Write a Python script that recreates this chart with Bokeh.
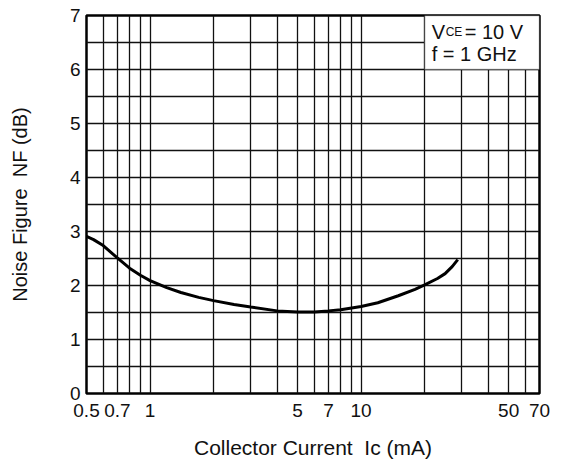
from bokeh.plotting import figure
from bokeh.models import FixedTicker, BoxAnnotation, Label
from bokeh.embed import file_html
from bokeh.resources import INLINE

# ---- data ----
ic_ma = [0.5, 0.54, 0.6, 0.7, 0.8, 0.9, 1.0, 1.2, 1.4, 1.7, 2.0, 2.5, 3.0, 4.0, 5.0,
         6.0, 7.0, 8.0, 10.0, 12.0, 15.0, 18.0, 20.0, 23.0, 25.0, 27.0, 28.7]
nf_db = [2.91, 2.85, 2.74, 2.51, 2.32, 2.19, 2.09, 1.96, 1.87, 1.78, 1.72, 1.65, 1.60, 1.53, 1.51,
         1.51, 1.53, 1.55, 1.61, 1.68, 1.81, 1.93, 2.01, 2.13, 2.22, 2.35, 2.48]

x_label_ticks = [0.5, 0.7, 1, 5, 7, 10, 50, 70]
x_label_texts = ["0.5", "0.7", "1", "5", "7", "10", "50", "70"]
x_grid_ticks = [0.5, 0.6, 0.7, 0.8, 0.9, 1, 2, 3, 4, 5, 6, 7, 8, 9, 10,
                20, 30, 40, 50, 60, 70]
y_label_ticks = [0, 1, 2, 3, 4, 5, 6, 7]
y_grid_ticks = [0, 0.5, 1, 1.5, 2, 2.5, 3, 3.5, 4, 4.5, 5, 5.5, 6, 6.5, 7]

# condition box (data extents)
box_left, box_right, box_bottom, box_top = 20, 70, 6, 7

FONT = "Liberation Sans"
TEXT_COLOR = "#111111"

p = figure(width=562, height=470, x_axis_type="log",
           x_range=(0.5, 70), y_range=(0, 7),
           output_backend="svg", toolbar_location=None,
           min_border_left=86, min_border_right=23,
           min_border_top=15, min_border_bottom=77)

p.background_fill_color = "white"
p.border_fill_color = "white"
p.outline_line_color = "black"
p.outline_line_width = 2.5

# grids
p.xgrid.ticker = FixedTicker(ticks=x_grid_ticks)
p.ygrid.ticker = FixedTicker(ticks=y_grid_ticks)
for g in (p.xgrid, p.ygrid):
    g.grid_line_color = "#111111"
    g.grid_line_width = 1.3
    g.grid_line_alpha = 1.0

# axes
xa = p.xaxis[0]
xa.ticker = FixedTicker(ticks=x_label_ticks)
xa.major_label_overrides = {t: s for t, s in zip(x_label_ticks, x_label_texts)}
ya = p.yaxis[0]
ya.ticker = FixedTicker(ticks=y_label_ticks)
for ax in (xa, ya):
    ax.axis_line_color = None
    ax.major_tick_line_color = None
    ax.minor_tick_line_color = None
    ax.major_tick_in = 0
    ax.major_tick_out = 0
    ax.minor_tick_in = 0
    ax.minor_tick_out = 0
    ax.major_label_text_font = FONT
    ax.major_label_text_font_size = "19px"
    ax.major_label_text_color = TEXT_COLOR
    ax.axis_label_text_font = FONT
    ax.axis_label_text_font_style = "normal"
    ax.axis_label_text_color = TEXT_COLOR
xa.major_label_standoff = 10
ya.major_label_standoff = 6

ya.axis_label = "Noise Figure\u00a0 NF (dB)"
ya.axis_label_text_font_size = "20px"
ya.axis_label_standoff = 36

xa.axis_label = "Collector Current\u00a0 I\u1d04 (mA)"
xa.axis_label_text_font_size = "21px"
xa.axis_label_standoff = 16

# curve
p.line(ic_ma, nf_db, line_color="black", line_width=3)

# condition box
p.add_layout(BoxAnnotation(left=box_left, right=box_right, bottom=box_bottom, top=box_top,
                           fill_color="white", fill_alpha=1.0,
                           line_color="black", line_width=1.5, level="overlay"))

def lab(x, y, text, xo, yo, size, align="left"):
    l = Label(x=x, y=y, x_offset=xo, y_offset=yo, text=text,
              text_font=FONT, text_font_size=size, text_color=TEXT_COLOR,
              text_baseline="alphabetic", text_align=align, level="overlay")
    p.add_layout(l)

# VCE = 10 V , f = 1 GHz
lab(box_left, box_top, "V", 7, -16, "20px")
lab(box_left, box_top, "CE", 21, -16, "12px")
lab(box_left, box_top, "= 10 V", 40, -16, "20px")
lab(box_left, box_top, "f = 1 GHz", 7, -38, "20px")

open("out.html", "w").write(file_html(p, INLINE))
